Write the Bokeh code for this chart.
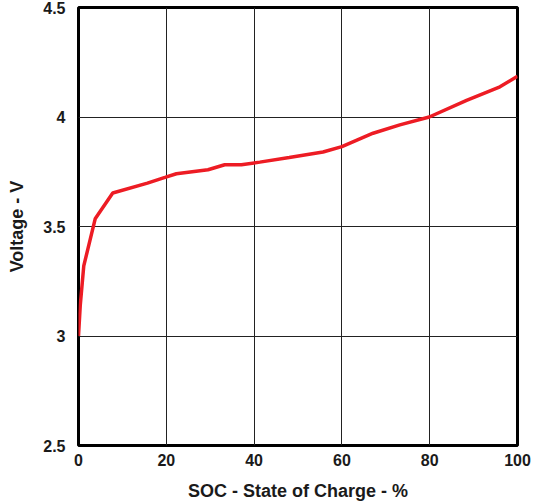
from bokeh.plotting import figure
from bokeh.models import FixedTicker, Range1d
from bokeh.embed import file_html
from bokeh.resources import INLINE

soc = [0, 0.4, 1.2, 3.8, 7.8, 15.7, 19.7, 22.3, 29.5, 33.3, 37.1, 41.3, 48, 55.7, 60, 67.1, 73.2, 79.9, 88.4, 96, 100]
voltage = [3.0, 3.14, 3.32, 3.535, 3.653, 3.698, 3.724, 3.741, 3.759, 3.782, 3.782, 3.794, 3.815, 3.84, 3.865, 3.926, 3.964, 4.0, 4.076, 4.138, 4.186]

x_ticks = [0, 20, 40, 60, 80, 100]
y_ticks = [2.5, 3, 3.5, 4, 4.5]
y_tick_labels = ["2.5", "3", "3.5", "4", "4.5"]

p = figure(output_backend="svg", toolbar_location=None,
           frame_width=439, frame_height=438,
           x_range=Range1d(0, 100), y_range=Range1d(2.5, 4.5),
           min_border_left=78, min_border_right=14, min_border_top=7, min_border_bottom=48)
p.background_fill_color = "white"
p.border_fill_color = "white"
p.outline_line_color = "black"
p.outline_line_width = 3

p.line(soc, voltage, line_color="#ED1C24", line_width=3.5)

p.xaxis.ticker = FixedTicker(ticks=x_ticks)
p.yaxis.ticker = FixedTicker(ticks=y_ticks)
p.yaxis.major_label_overrides = {t: l for t, l in zip(y_ticks, y_tick_labels)}

for ax in (p.xaxis[0], p.yaxis[0]):
    ax.axis_line_color = None
    ax.major_tick_line_color = None
    ax.minor_tick_line_color = None
    ax.major_tick_in = 0
    ax.major_tick_out = 0
    ax.minor_tick_in = 0
    ax.minor_tick_out = 0
    ax.major_label_text_font = "Liberation Sans"
    ax.major_label_text_font_style = "bold"
    ax.major_label_text_font_size = "16px"
    ax.major_label_text_color = "#1a1a1a"
    ax.axis_label_text_font = "Liberation Sans"
    ax.axis_label_text_font_style = "bold"
    ax.axis_label_text_font_size = "18px"
    ax.axis_label_text_color = "#1a1a1a"

p.xaxis.major_label_standoff = 8
p.yaxis.major_label_standoff = 13
p.xaxis.axis_label = "SOC - State of Charge - %"
p.yaxis.axis_label = "Voltage - V"
p.xaxis.axis_label_standoff = 12
p.yaxis.axis_label_standoff = 13

p.grid.grid_line_color = "#222222"
p.grid.grid_line_width = 1

open("out.html", "w").write(file_html(p, INLINE))
